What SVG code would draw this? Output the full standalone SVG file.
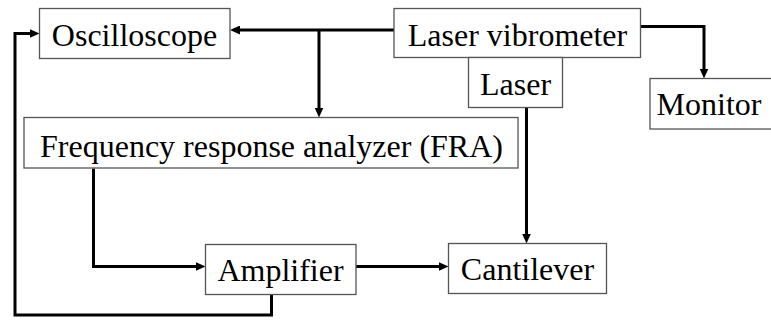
<svg xmlns="http://www.w3.org/2000/svg" width="771" height="320" viewBox="0 0 771 320">
<style>
.box{fill:#fff;stroke:#555;stroke-width:1.3}
.lbl{font-size:32px;fill:#000;text-anchor:middle}
.con{fill:none;stroke:#000;stroke-width:3;marker-end:url(#arr)}
</style>
<defs>
<marker id="arr" markerUnits="userSpaceOnUse" markerWidth="10" markerHeight="9" refX="4" refY="4.5" orient="auto">
<path d="M0,0 L10,4.5 L0,9 z" fill="#000"/>
</marker>
</defs>
<rect width="771" height="320" fill="#fff"/>
<g id="connectors">
<path class="con" d="M394,30 H236"/>
<path class="con" d="M319,30 V111.5"/>
<path class="con" d="M641,26.5 H704 V72.5"/>
<path class="con" d="M526.5,107.5 V237.5"/>
<path class="con" d="M93.5,168.5 V266.5 H199.5"/>
<path class="con" d="M356,266.5 H442.5"/>
<path class="con" d="M271.5,294.5 V315 H15 V33.5 H33.5"/>
</g>
<g font-family="'Liberation Serif', 'Times New Roman', Tinos, serif">
<g id="oscilloscope">
<rect class="box" x="39.5" y="8.5" width="190.5" height="50"/>
<text class="lbl" x="134.5" y="46">Oscilloscope</text>
</g>
<g id="laser-vibrometer">
<rect class="box" x="394" y="8.5" width="246.5" height="49"/>
<text class="lbl" x="517.5" y="46">Laser vibrometer</text>
</g>
<g id="laser">
<rect class="box" x="468.5" y="57.5" width="94" height="50"/>
<text class="lbl" x="515.5" y="95">Laser</text>
</g>
<g id="monitor">
<rect class="box" x="650" y="78.5" width="130" height="50.5"/>
<text class="lbl" x="709" y="115">Monitor</text>
</g>
<g id="fra">
<rect class="box" x="24" y="117.5" width="494" height="50.5"/>
<text class="lbl" x="271.5" y="157">Frequency response analyzer (FRA)</text>
</g>
<g id="amplifier">
<rect class="box" x="205.5" y="244.5" width="150.5" height="50"/>
<text class="lbl" x="280.5" y="281">Amplifier</text>
</g>
<g id="cantilever">
<rect class="box" x="448.5" y="243.5" width="158" height="50"/>
<text class="lbl" x="527.5" y="280">Cantilever</text>
</g>
</g>
</svg>
